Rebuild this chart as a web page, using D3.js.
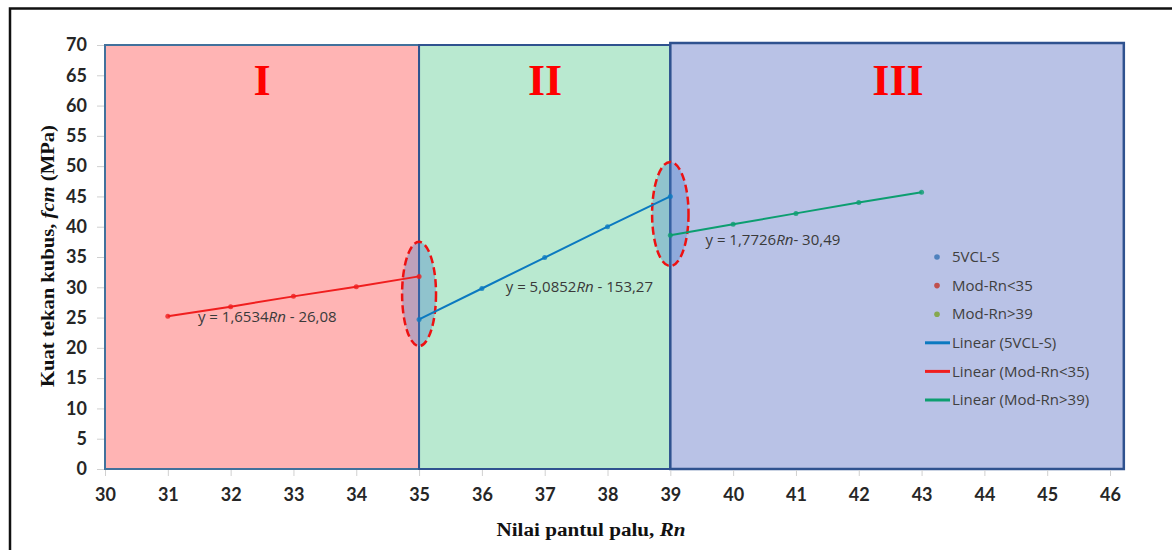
<!DOCTYPE html>
<html>
<head>
<meta charset="utf-8">
<script src="https://cdn.jsdelivr.net/npm/d3@7"></script>
<style>
  html, body { margin: 0; padding: 0; background: #fff; }
  svg { display: block; }
</style>
</head>
<body>
<svg id="chart"></svg>
<script>
// Data
const rnRed = [31, 32, 33, 34, 35];
const fcmRed = [25.2, 26.8, 28.5, 30.1, 31.8];
const rnBlue = [35, 36, 37, 38, 39];
const fcmBlue = [24.7, 29.8, 34.9, 40.0, 45.0];
const rnGreen = [39, 40, 41, 42, 43];
const fcmGreen = [38.6, 40.4, 42.2, 44.0, 45.7];

const xTicks = d3.range(30, 47, 1);
const yTicks = d3.range(0, 71, 5);

const regions = [
  { label: "I", x0: 30, x1: 35 },
  { label: "II", x0: 35, x1: 39 },
  { label: "III", x0: 39, x1: 46.22 }
];

// ellipses drawn over the two transition zones (centre Rn, centre fcm, half-width in Rn, half-height in MPa)
const zones = [
  { rn: 35, fcm: 28.9, rx: 0.27, ry: 8.6 },
  { rn: 39, fcm: 42.1, rx: 0.29, ry: 8.6 }
];

const equations = [
  { rn: 31.48, fcm: 24.2, a: "y = 1,6534", b: " - 26,08" },
  { rn: 36.38, fcm: 29.2, a: "y = 5,0852", b: " - 153,27" },
  { rn: 39.56, fcm: 36.9, a: "y = 1,7726", b: "- 30,49" }
];

const width = 1172;
const height = 550;

const x = d3.scaleLinear().domain([30, 46]).range([105, 1110]);
const y = d3.scaleLinear().domain([0, 70]).range([469, 45]);

const svg = d3.select("#chart")
  .attr("width", width)
  .attr("height", height)
  .attr("viewBox", [0, 0, width, height]);

// page frame (top and left edges only are visible)
svg.append("path")
  .attr("d", `M10,${height} V8.5 H${width}`)
  .attr("fill", "none")
  .attr("stroke", "#111")
  .attr("stroke-width", 2.5);

// shaded regions
const regionFill = ["#ffb4b4", "#b9e9d0", "#b9c2e6"];
const regionStroke = ["#41719c", "#2f528f", "#2f528f"];
const regionStrokeW = [2, 2, 2.5];

svg.append("g")
  .selectAll()
  .data(regions)
  .join("rect")
  .attr("x", d => x(d.x0))
  .attr("y", (d, i) => i === 2 ? y(70) - 2 : y(70))
  .attr("width", d => x(d.x1) - x(d.x0))
  .attr("height", (d, i) => i === 2 ? y(0) - y(70) + 2 : y(0) - y(70))
  .attr("fill", (d, i) => regionFill[i])
  .attr("stroke", (d, i) => regionStroke[i])
  .attr("stroke-width", (d, i) => regionStrokeW[i]);

svg.append("g")
  .attr("fill", "#ff0000")
  .attr("font-family", "'Liberation Serif', 'DejaVu Serif', serif")
  .attr("font-weight", "bold")
  .attr("font-size", 44)
  .attr("text-anchor", "middle")
  .selectAll()
  .data(regions)
  .join("text")
  .attr("x", (d, i) => [262, 545, 898][i])
  .attr("y", 95)
  .text(d => d.label);

// axes
const yAxis = svg.append("g")
  .attr("transform", `translate(${x(30) - 1},0)`)
  .call(d3.axisLeft(y).tickValues(yTicks).tickSize(7).tickPadding(10))
  .call(g => g.select(".domain").remove());
yAxis.selectAll(".tick line").attr("stroke", "#d0d0d0");
yAxis.selectAll(".tick text")
  .attr("fill", "#262626")
  .attr("font-family", "Lato, 'Open Sans', sans-serif")
  .attr("font-weight", "bold")
  .attr("font-size", 18);

const xAxis = svg.append("g")
  .attr("transform", `translate(0,${y(0) + 1})`)
  .call(d3.axisBottom(x).tickValues(xTicks).tickSize(6).tickPadding(12))
  .call(g => g.select(".domain").remove());
xAxis.selectAll(".tick line").attr("stroke", "#d0d0d0");
xAxis.selectAll(".tick text")
  .attr("fill", "#262626")
  .attr("font-family", "Lato, 'Open Sans', sans-serif")
  .attr("font-weight", "bold")
  .attr("font-size", 18);

// axis titles
const yTitle = svg.append("text")
  .attr("transform", "translate(54,256) rotate(-90)")
  .attr("text-anchor", "middle")
  .attr("font-family", "'Liberation Serif', serif")
  .attr("font-weight", "bold")
  .attr("font-size", 18)
  .attr("textLength", 262)
  .attr("lengthAdjust", "spacingAndGlyphs")
  .attr("fill", "#111");
yTitle.append("tspan").text("Kuat tekan kubus, ");
yTitle.append("tspan").attr("font-style", "italic").text("fcm");
yTitle.append("tspan").text(" (MPa)");

const xTitle = svg.append("text")
  .attr("x", 591)
  .attr("y", 536)
  .attr("text-anchor", "middle")
  .attr("font-family", "'Liberation Serif', serif")
  .attr("font-weight", "bold")
  .attr("font-size", 18)
  .attr("textLength", 189)
  .attr("lengthAdjust", "spacingAndGlyphs")
  .attr("fill", "#111");
xTitle.append("tspan").text("Nilai pantul palu, ");
xTitle.append("tspan").attr("font-style", "italic").text("Rn");

// ellipses
svg.append("g")
  .selectAll()
  .data(zones)
  .join("ellipse")
  .attr("cx", d => x(d.rn))
  .attr("cy", d => y(d.fcm))
  .attr("rx", d => x(d.rn + d.rx) - x(d.rn))
  .attr("ry", d => y(0) - y(d.ry))
  .attr("fill", "rgba(70,125,200,0.35)")
  .attr("stroke", "#ee1111")
  .attr("stroke-width", 2.5)
  .attr("stroke-dasharray", "8,4");

// series
const series = [
  { name: "5VCL-S", rn: rnBlue, fcm: fcmBlue, line: "#0b79c0", dot: "#4f81bd" },
  { name: "Mod-Rn<35", rn: rnRed, fcm: fcmRed, line: "#f01e1e", dot: "#c0504d" },
  { name: "Mod-Rn>39", rn: rnGreen, fcm: fcmGreen, line: "#0c9e70", dot: "#86a84f" }
];

const line = d3.line().x(d => x(d[0])).y(d => y(d[1]));

series.forEach(s => {
  const pts = d3.zip(s.rn, s.fcm);
  svg.append("path")
    .datum(pts)
    .attr("fill", "none")
    .attr("stroke", s.line)
    .attr("stroke-width", 2)
    .attr("d", line);
  svg.append("g")
    .selectAll()
    .data(pts)
    .join("circle")
    .attr("cx", d => x(d[0]))
    .attr("cy", d => y(d[1]))
    .attr("r", 2.5)
    .attr("fill", s.line)
    .attr("opacity", 0.8);
});

// trendline equations
const eq = svg.append("g")
  .attr("font-family", "'Open Sans', Lato, sans-serif")
  .attr("font-size", 15)
  .attr("fill", "#3a3a3a")
  .selectAll()
  .data(equations)
  .join("text")
  .attr("x", d => x(d.rn))
  .attr("y", d => y(d.fcm));
eq.append("tspan").text(d => d.a);
eq.append("tspan").attr("font-style", "italic").text("Rn");
eq.append("tspan").text(d => d.b);

// legend
const legendItems = [
  ...series.map(s => ({ kind: "dot", color: s.dot, text: s.name })),
  ...series.map(s => ({ kind: "line", color: s.line, text: `Linear (${s.name})` }))
];

const legend = svg.append("g")
  .attr("font-family", "'Open Sans', Lato, sans-serif")
  .attr("font-size", 15)
  .attr("fill", "#404040");

legendItems.forEach((d, i) => {
  const ly = 257 + i * 28.6;
  if (d.kind === "dot") {
    legend.append("circle").attr("cx", 937).attr("cy", ly).attr("r", 2.8).attr("fill", d.color);
  } else {
    legend.append("line")
      .attr("x1", 925).attr("x2", 950)
      .attr("y1", ly).attr("y2", ly)
      .attr("stroke", d.color).attr("stroke-width", 3);
  }
  legend.append("text")
    .attr("x", 952)
    .attr("y", ly)
    .attr("dy", "0.35em")
    .text(d.text);
});
</script>
</body>
</html>
